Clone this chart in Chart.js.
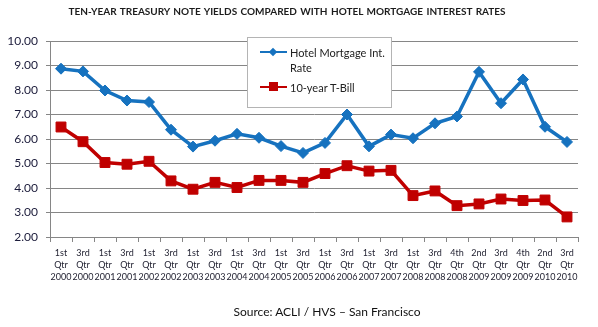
<!DOCTYPE html>
<html>
<head>
<meta charset="utf-8">
<script src="https://cdn.jsdelivr.net/npm/chart.js@4.4.1/dist/chart.umd.min.js"></script>
<style>
  body { margin: 0; background: #fff; }
  #wrap { position: relative; width: 598px; height: 327px; overflow: hidden; font-family: Lato, "Open Sans", sans-serif; }
  #chart { position: absolute; left: 0; top: 0; }
  #title { position: absolute; left: 0; width: 574px; top: 5px; text-align: center; font-size: 10px; font-weight: bold; color: #1c1c1c; white-space: nowrap; word-spacing: 1px; }
  #source { position: absolute; left: 0; width: 654px; top: 304px; text-align: center; font-size: 12px; color: #111; white-space: nowrap; }
  #legend { position: absolute; left: 247px; top: 37px; width: 143px; height: 69px; border: 1px solid #b4b4b4; background: #fff; font-size: 11px; color: #222; }
  .item { position: absolute; left: 12px; }
  .swatch { position: absolute; left: 0; width: 27px; height: 10px; }
  .swatch .ln { position: absolute; left: 0; right: 0; top: 4px; height: 2px; }
  .swatch .mk { position: absolute; }
  .txt { position: absolute; left: 30px; top: -2px; width: 105px; line-height: 15px; white-space: nowrap; }
</style>
</head>
<body>
<div id="wrap">
  <canvas id="chart" width="598" height="327"></canvas>
  <div id="title">TEN-YEAR TREASURY NOTE YIELDS COMPARED WITH HOTEL MORTGAGE INTEREST RATES</div>
  <div id="legend"></div>
  <div id="source">Source: ACLI / HVS – San Francisco</div>
</div>
<script>
// quarters and years along the x axis
const quarters = ['1st', '3rd', '1st', '3rd', '1st', '3rd', '1st', '3rd', '1st', '3rd', '1st', '3rd',
                  '1st', '3rd', '1st', '3rd', '1st', '3rd', '4th', '2nd', '3rd', '4th', '2nd', '3rd'];
const years = ['2000', '2000', '2001', '2001', '2002', '2002', '2003', '2003', '2004', '2004', '2005', '2005',
               '2006', '2006', '2007', '2007', '2008', '2008', '2008', '2009', '2009', '2009', '2010', '2010'];

const hotelMortgage = [8.87, 8.76, 7.98, 7.57, 7.51, 6.38, 5.69, 5.93, 6.21, 6.05, 5.71, 5.43,
                       5.84, 7.00, 5.70, 6.18, 6.03, 6.64, 6.92, 8.74, 7.46, 8.43, 6.50, 5.88];
const tBill = [6.49, 5.89, 5.04, 4.97, 5.09, 4.29, 3.95, 4.23, 4.02, 4.31, 4.31, 4.23,
               4.59, 4.91, 4.69, 4.72, 3.69, 3.88, 3.28, 3.35, 3.55, 3.49, 3.51, 2.82];

const yTicks = [2, 3, 4, 5, 6, 7, 8, 9, 10];

const blue = '#1672bf';
const red = '#c00000';

const labels = quarters.map((q, i) => [q, 'Qtr', years[i]]);

// legend drawn as html so the first entry can wrap like the original
const legendItems = [
    { text: 'Hotel Mortgage Int.<br>Rate', color: blue, top: 9, marker: 'diamond' },
    { text: '10-year T-Bill', color: red, top: 44, marker: 'square' }
];
const legendEl = document.getElementById('legend');
legendItems.forEach(item => {
    let mk;
    if (item.marker === 'diamond') {
        mk = `<div class="mk" style="left:10px;top:1px;width:6px;height:6px;background:${item.color};transform:rotate(45deg);transform-origin:center;margin-top:1px;"></div>`;
    } else {
        mk = `<div class="mk" style="left:9px;top:0px;width:9px;height:9px;background:${item.color};"></div>`;
    }
    legendEl.innerHTML += `
        <div class="item" style="top:${item.top}px">
            <div class="swatch"><div class="ln" style="background:${item.color}"></div>${mk}</div>
            <div class="txt">${item.text}</div>
        </div>`;
});

const ctx = document.getElementById('chart').getContext('2d');
new Chart(ctx, {
    type: 'line',
    data: {
        labels: labels,
        datasets: [{
            label: 'Hotel Mortgage Int. Rate',
            data: hotelMortgage,
            borderColor: blue,
            backgroundColor: blue,
            borderWidth: 3.5,
            pointStyle: 'rectRot',
            pointRadius: 5.5,
            pointBorderWidth: 1,
            tension: 0
        }, {
            label: '10-year T-Bill',
            data: tBill,
            borderColor: red,
            backgroundColor: red,
            borderWidth: 3.5,
            pointStyle: 'rect',
            pointRadius: 7,
            pointBorderWidth: 1,
            tension: 0
        }]
    },
    options: {
        responsive: false,
        animation: false,
        layout: { padding: { left: 0, right: 20, top: 41, bottom: 0 } },
        plugins: {
            legend: { display: false },
            tooltip: { enabled: false }
        },
        scales: {
            x: {
                offset: true,
                grid: {
                    offset: true,
                    drawOnChartArea: false,
                    drawTicks: true,
                    tickLength: 5,
                    color: '#868686'
                },
                border: { color: '#868686', width: 1 },
                ticks: {
                    autoSkip: false,
                    maxRotation: 0,
                    padding: 5,
                    color: '#1e1e2e',
                    font: { family: 'Lato', size: 9, lineHeight: 1.33 }
                },
                afterFit: scale => { scale.height = 90; }
            },
            y: {
                min: 2,
                max: 10,
                afterBuildTicks: scale => { scale.ticks = yTicks.map(v => ({ value: v })); },
                grid: {
                    color: '#868686',
                    tickLength: 4,
                    lineWidth: 1
                },
                border: { color: '#868686', width: 1 },
                ticks: {
                    padding: 8,
                    color: '#1b1b3a',
                    font: { family: 'Lato', size: 12 },
                    callback: v => Number(v).toFixed(2)
                },
                afterFit: scale => { scale.width = 50; }
            }
        }
    }
});
</script>
</body>
</html>
